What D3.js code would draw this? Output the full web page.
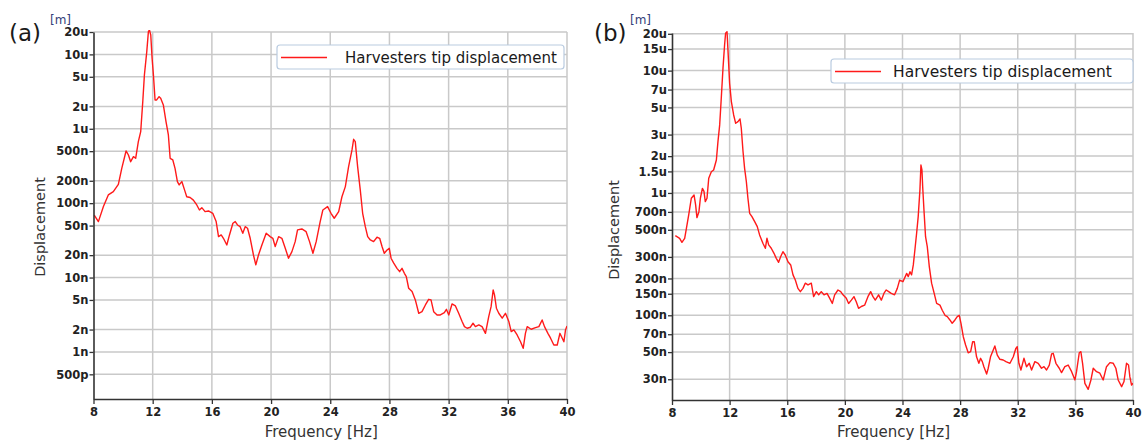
<!DOCTYPE html>
<html>
<head>
<meta charset="utf-8">
<script src="https://cdn.jsdelivr.net/npm/d3@7"></script>
<style>
  body { margin: 0; background: #fff; }
  text { font-family: "DejaVu Sans", Verdana, sans-serif; }
</style>
</head>
<body>
<svg id="chart" width="1142" height="441"></svg>
<script>
// Frequency ticks shared by both panels
const xTicks = [8, 12, 16, 20, 24, 28, 32, 36, 40];

// Displacement ticks, panel (a)
const yTicksA = [2e-5, 1e-5, 5e-6, 2e-6, 1e-6, 5e-7, 2e-7, 1e-7, 5e-8, 2e-8, 1e-8, 5e-9, 2e-9, 1e-9, 5e-10];
const yLabelsA = ["20u", "10u", "5u", "2u", "1u", "500n", "200n", "100n", "50n", "20n", "10n", "5n", "2n", "1n", "500p"];

// Displacement ticks, panel (b)
const yTicksB = [2e-5, 1.5e-5, 1e-5, 7e-6, 5e-6, 3e-6, 2e-6, 1.5e-6, 1e-6, 7e-7, 5e-7, 3e-7, 2e-7, 1.5e-7, 1e-7, 7e-8, 5e-8, 3e-8];
const yLabelsB = ["20u", "15u", "10u", "7u", "5u", "3u", "2u", "1.5u", "1u", "700n", "500n", "300n", "200n", "150n", "100n", "70n", "50n", "30n"];

// [frequency Hz, displacement m]
const seriesA = [
  [8.05, 6.9e-8], [8.33, 5.65e-8], [8.67, 9.0e-8], [9.00, 1.29e-7], [9.34, 1.43e-7], [9.68, 1.79e-7],
  [9.91, 2.94e-7], [10.20, 5.03e-7], [10.36, 4.44e-7], [10.51, 3.61e-7], [10.70, 4.22e-7], [10.85, 4.01e-7],
  [11.03, 6.71e-7], [11.19, 9.14e-7], [11.33, 2.32e-6], [11.44, 5.28e-6], [11.60, 1.09e-5], [11.71, 2.02e-5],
  [11.78, 2.13e-5], [11.87, 1.82e-5], [11.96, 8.86e-6], [12.05, 5.28e-6], [12.16, 2.44e-6], [12.27, 2.44e-6],
  [12.43, 2.70e-6], [12.54, 2.57e-6], [12.72, 2.09e-6], [12.90, 1.25e-6], [13.06, 8.26e-7], [13.18, 4.01e-7],
  [13.36, 3.81e-7], [13.51, 2.94e-7], [13.67, 1.95e-7], [13.79, 1.76e-7], [13.97, 1.95e-7], [14.19, 1.43e-7],
  [14.30, 1.22e-7], [14.53, 1.19e-7], [14.75, 1.10e-7], [14.98, 9.46e-8], [15.16, 8.1e-8], [15.32, 8.7e-8],
  [15.54, 7.69e-8], [15.77, 7.85e-8], [16.06, 7.31e-8], [16.29, 5.65e-8], [16.45, 3.55e-8], [16.63, 3.74e-8],
  [16.78, 3.37e-8], [17.01, 2.74e-8], [17.19, 3.74e-8], [17.42, 5.37e-8], [17.58, 5.65e-8], [17.73, 5.09e-8],
  [17.91, 4.83e-8], [18.09, 3.94e-8], [18.25, 4.83e-8], [18.41, 4.6e-8], [18.59, 3.37e-8], [18.81, 2.01e-8],
  [18.97, 1.48e-8], [19.15, 2.01e-8], [19.38, 2.74e-8], [19.67, 3.94e-8], [19.94, 3.55e-8], [20.12, 3.37e-8],
  [20.28, 2.61e-8], [20.51, 3.55e-8], [20.73, 3.37e-8], [20.96, 2.47e-8], [21.18, 1.82e-8], [21.41, 2.23e-8],
  [21.63, 3.04e-8], [21.79, 4.37e-8], [22.08, 4.5e-8], [22.37, 4.14e-8], [22.60, 3.04e-8], [22.83, 2.12e-8],
  [23.05, 3.04e-8], [23.32, 5.65e-8], [23.50, 8.1e-8], [23.82, 9.0e-8],
  [24.05, 7.31e-8], [24.27, 6.27e-8], [24.57, 7.69e-8], [24.79, 1.22e-7], [25.02, 1.67e-7], [25.24, 3.1e-7],
  [25.47, 5.19e-7], [25.58, 7.22e-7], [25.69, 6.71e-7], [25.85, 3.1e-7], [26.03, 1.5e-7], [26.19, 7.31e-8],
  [26.37, 4.83e-8], [26.53, 3.55e-8], [26.71, 3.2e-8], [26.93, 3.04e-8], [27.16, 3.48e-8], [27.34, 3.37e-8],
  [27.50, 2.61e-8], [27.65, 2.12e-8], [27.84, 2.35e-8], [27.99, 2.47e-8], [28.11, 1.82e-8], [28.29, 1.56e-8],
  [28.51, 1.33e-8], [28.69, 1.2e-8], [28.85, 1.33e-8], [29.01, 1.14e-8], [29.14, 1.03e-8], [29.30, 7.18e-9],
  [29.53, 6.47e-9], [29.75, 5.0e-9], [29.98, 3.31e-9], [30.20, 3.48e-9], [30.43, 4.28e-9], [30.65, 5.1e-9],
  [30.81, 5.0e-9], [30.99, 3.48e-9], [31.22, 3.14e-9], [31.44, 3.14e-9], [31.71, 3.37e-9], [31.85, 3.74e-9],
  [32.01, 3.14e-9], [32.23, 4.42e-9], [32.46, 4.15e-9], [32.68, 3.31e-9], [32.91, 2.56e-9], [33.07, 2.19e-9],
  [33.25, 2.08e-9], [33.47, 2.15e-9], [33.65, 2.43e-9], [33.81, 2.19e-9], [34.04, 2.31e-9], [34.26, 2.19e-9],
  [34.49, 1.78e-9], [34.71, 2.98e-9], [34.87, 4.06e-9], [35.01, 6.81e-9], [35.10, 5.84e-9], [35.23, 3.87e-9],
  [35.39, 3.31e-9], [35.62, 2.84e-9], [35.84, 3.31e-9], [36.07, 2.56e-9], [36.23, 1.88e-9], [36.41, 1.98e-9],
  [36.63, 1.69e-9], [36.86, 1.37e-9], [37.04, 1.12e-9], [37.19, 1.78e-9], [37.31, 2.19e-9], [37.58, 2.02e-9],
  [37.87, 2.12e-9], [38.10, 2.19e-9], [38.32, 2.69e-9], [38.48, 2.19e-9], [38.71, 1.78e-9], [38.89, 1.53e-9],
  [39.11, 1.24e-9], [39.34, 1.24e-9], [39.52, 1.78e-9], [39.68, 1.53e-9], [39.79, 1.37e-9], [39.90, 1.98e-9],
  [40.00, 2.24e-9]
];

// [frequency Hz, displacement m]
const seriesB = [
  [8.23, 4.48e-7], [8.53, 4.26e-7], [8.69, 3.95e-7], [8.88, 4.26e-7], [9.00, 5.14e-7], [9.16, 6.61e-7],
  [9.34, 9.05e-7], [9.53, 9.63e-7], [9.64, 7.98e-7], [9.73, 6.28e-7], [9.87, 7.03e-7], [9.97, 9.05e-7],
  [10.11, 1.09e-6], [10.22, 1.03e-6], [10.31, 8.49e-7], [10.43, 9.05e-7], [10.55, 1.32e-6], [10.73, 1.49e-6],
  [10.89, 1.54e-6], [11.08, 1.86e-6], [11.19, 2.63e-6], [11.31, 3.6e-6], [11.42, 5.95e-6], [11.54, 1.05e-5],
  [11.65, 1.62e-5], [11.72, 2.02e-5], [11.82, 2.08e-5], [11.89, 1.43e-5], [12.00, 7.89e-6], [12.12, 5.58e-6],
  [12.28, 4.34e-6], [12.42, 3.71e-6], [12.58, 3.83e-6], [12.72, 4.03e-6], [12.81, 3.38e-6], [12.93, 2.18e-6],
  [13.04, 1.59e-6], [13.16, 1.24e-6], [13.27, 9.05e-7], [13.39, 6.82e-7], [13.55, 6.4e-7], [13.74, 5.82e-7],
  [13.92, 5.3e-7], [14.08, 4.54e-7], [14.31, 3.88e-7], [14.48, 3.53e-7], [14.59, 4.26e-7], [14.71, 3.76e-7],
  [14.89, 3.53e-7], [15.08, 3.21e-7], [15.24, 2.92e-7], [15.40, 2.71e-7], [15.54, 3.01e-7], [15.70, 3.31e-7],
  [15.86, 3.11e-7], [16.05, 2.74e-7], [16.24, 2.58e-7], [16.40, 2.14e-7], [16.56, 1.94e-7], [16.74, 1.66e-7],
  [16.91, 1.56e-7], [17.09, 1.66e-7], [17.25, 1.83e-7], [17.44, 1.77e-7], [17.67, 1.83e-7], [17.83, 1.42e-7],
  [18.02, 1.56e-7], [18.18, 1.47e-7], [18.36, 1.56e-7], [18.55, 1.47e-7], [18.76, 1.51e-7], [18.94, 1.38e-7],
  [19.13, 1.25e-7], [19.29, 1.47e-7], [19.52, 1.61e-7], [19.71, 1.56e-7], [19.87, 1.47e-7], [20.10, 1.38e-7],
  [20.26, 1.25e-7], [20.45, 1.33e-7], [20.63, 1.42e-7], [20.79, 1.29e-7], [20.95, 1.14e-7], [21.14, 1.18e-7],
  [21.37, 1.21e-7], [21.60, 1.42e-7], [21.79, 1.56e-7], [21.95, 1.42e-7], [22.11, 1.33e-7], [22.34, 1.47e-7],
  [22.53, 1.33e-7], [22.71, 1.51e-7], [22.87, 1.61e-7], [23.04, 1.56e-7], [23.22, 1.51e-7], [23.45, 1.47e-7],
  [23.64, 1.66e-7], [23.80, 1.94e-7], [24.03, 1.88e-7],
  [24.29, 2.2e-7], [24.40, 2.07e-7], [24.52, 2.27e-7], [24.63, 2.14e-7], [24.75, 2.58e-7], [24.86, 3.42e-7],
  [24.98, 4.68e-7], [25.09, 6.4e-7], [25.21, 1.06e-6], [25.28, 1.69e-6], [25.35, 1.54e-6], [25.40, 1.13e-6],
  [25.49, 7.26e-7], [25.60, 4.39e-7], [25.72, 3.64e-7], [25.86, 2.5e-7], [26.02, 1.83e-7], [26.20, 1.51e-7],
  [26.37, 1.25e-7], [26.60, 1.21e-7], [26.76, 1.1e-7], [26.95, 1.0e-7], [27.11, 9.74e-8], [27.29, 9.16e-8],
  [27.45, 8.6e-8], [27.64, 9.16e-8], [27.80, 9.74e-8], [27.94, 1.0e-7], [28.06, 8.6e-8], [28.22, 6.68e-8],
  [28.38, 5.71e-8], [28.56, 4.94e-8], [28.73, 5.04e-8], [28.87, 6.08e-8], [28.98, 6.08e-8], [29.14, 4.58e-8],
  [29.30, 4.05e-8], [29.42, 4.45e-8], [29.54, 4.18e-8], [29.65, 3.8e-8], [29.84, 3.31e-8], [29.95, 3.69e-8],
  [30.11, 4.58e-8], [30.30, 5.2e-8], [30.41, 5.61e-8], [30.58, 4.73e-8], [30.76, 4.37e-8], [30.99, 4.31e-8],
  [31.18, 4.18e-8], [31.46, 4.05e-8], [31.69, 4.58e-8], [31.87, 5.37e-8], [31.96, 5.54e-8], [32.08, 4.05e-8],
  [32.22, 3.57e-8], [32.43, 4.45e-8], [32.61, 3.8e-8], [32.80, 4.05e-8], [32.96, 3.57e-8], [33.19, 4.18e-8],
  [33.42, 4.05e-8], [33.65, 3.69e-8], [33.82, 3.8e-8], [34.00, 3.57e-8], [34.19, 3.92e-8], [34.35, 4.83e-8],
  [34.46, 4.89e-8], [34.65, 4.05e-8], [34.88, 3.69e-8], [35.04, 3.4e-8], [35.27, 3.8e-8], [35.50, 3.92e-8],
  [35.74, 3.46e-8], [35.97, 2.96e-8], [36.08, 3.46e-8], [36.27, 4.94e-8], [36.38, 5.04e-8], [36.50, 4.05e-8],
  [36.66, 2.78e-8], [36.89, 2.48e-8], [37.08, 2.96e-8], [37.24, 3.69e-8], [37.47, 3.46e-8], [37.70, 3.36e-8],
  [37.93, 2.96e-8], [38.16, 3.8e-8], [38.40, 4.1e-8], [38.63, 4.05e-8], [38.81, 3.69e-8], [38.97, 2.96e-8],
  [39.21, 2.61e-8], [39.37, 2.86e-8], [39.55, 4.05e-8], [39.69, 3.92e-8], [39.78, 3.15e-8], [39.90, 2.69e-8],
  [40.00, 2.78e-8]
];

const svg = d3.select("#chart");

function drawPanel(p) {
    const g = svg.append("g");

    const x = d3.scaleLinear().domain([8, 40]).range([p.left, p.right]);
    const y = d3.scaleLog().domain(p.yDomain).range([p.bottom, p.top]);

    // grid
    g.append("g")
        .selectAll("line.hgrid")
        .data(p.yTicks)
        .enter()
        .append("line")
            .attr("x1", p.left).attr("x2", p.right)
            .attr("y1", d => y(d)).attr("y2", d => y(d))
            .attr("stroke", "#c9c9c9").attr("stroke-width", 1.5);
    g.append("g")
        .selectAll("line.vgrid")
        .data(xTicks.slice(1))
        .enter()
        .append("line")
            .attr("x1", d => x(d)).attr("x2", d => x(d))
            .attr("y1", p.top).attr("y2", p.bottom)
            .attr("stroke", "#c9c9c9").attr("stroke-width", 1.5);

    // curve
    const clipId = "clip" + p.name;
    svg.append("clipPath").attr("id", clipId)
        .append("rect")
        .attr("x", p.left).attr("y", p.top - 2)
        .attr("width", p.right - p.left).attr("height", p.bottom - p.top + 2);

    g.append("path")
        .datum(p.series)
        .attr("clip-path", `url(#${clipId})`)
        .attr("fill", "none")
        .attr("stroke", "#ff1a1a")
        .attr("stroke-width", 1.4)
        .attr("stroke-linejoin", "round")
        .attr("d", d3.line().x(d => x(d[0])).y(d => y(d[1])));

    // x axis
    const xa = g.append("g")
        .attr("transform", `translate(0,${p.bottom})`)
        .call(d3.axisBottom(x).tickValues(xTicks).tickFormat(d3.format("d")).tickSize(5).tickSizeOuter(0).tickPadding(4));
    xa.select(".domain").attr("stroke", "#333").attr("stroke-width", 1.6);
    xa.selectAll(".tick line").attr("stroke", "#333").attr("stroke-width", 1.3);
    xa.selectAll("text").attr("font-size", "11.5px").attr("font-weight", "bold").attr("fill", "#222")
        .attr("font-family", "DejaVu Sans, sans-serif");

    // y axis
    const ya = g.append("g")
        .attr("transform", `translate(${p.left},0)`)
        .call(d3.axisLeft(y).tickValues(p.yTicks).tickFormat((d, i) => p.yLabels[i]).tickSize(4).tickSizeOuter(0).tickPadding(1));
    ya.select(".domain").attr("stroke", "#333").attr("stroke-width", 1.6);
    ya.selectAll(".tick line").attr("stroke", "#333").attr("stroke-width", 1.3);
    ya.selectAll("text").attr("font-size", "11.5px").attr("font-weight", "bold").attr("fill", "#222")
        .attr("font-family", "DejaVu Sans, sans-serif");

    // labels
    g.append("text")
        .attr("x", (p.left + p.right) / 2 - 9)
        .attr("y", 437)
        .attr("text-anchor", "middle")
        .attr("font-size", "15px")
        .attr("fill", "#333")
        .text("Frequency [Hz]");

    g.append("text")
        .attr("transform", `translate(${p.yLabelX},${p.yLabelY}) rotate(-90)`)
        .attr("text-anchor", "middle")
        .attr("font-size", "14.5px")
        .attr("fill", "#333")
        .text("Displacement");

    g.append("text")
        .attr("x", p.unitX).attr("y", 24)
        .attr("font-size", "12px")
        .attr("fill", "#33407a")
        .text("[m]");

    g.append("text")
        .attr("x", p.letterX).attr("y", 41)
        .attr("font-size", "23px")
        .attr("fill", "#1a1a1a")
        .text(p.letter);

    // legend
    const lg = g.append("g");
    lg.append("rect")
        .attr("x", p.legend.x).attr("y", p.legend.y)
        .attr("width", p.legend.w).attr("height", 24)
        .attr("rx", 3)
        .attr("fill", "#fff")
        .attr("stroke", "#b9cbe0")
        .attr("stroke-width", 1.2);
    lg.append("line")
        .attr("x1", p.legend.x + 4).attr("x2", p.legend.x + 50)
        .attr("y1", p.legend.y + 12.5).attr("y2", p.legend.y + 12.5)
        .attr("stroke", "#ff1a1a").attr("stroke-width", 1.6);
    lg.append("text")
        .attr("x", p.legend.tx).attr("y", p.legend.y + 17.5)
        .attr("font-size", p.legend.fs)
        .attr("fill", "#1a1a1a")
        .text("Harvesters tip displacement");
}

drawPanel({
    name: "a", series: seriesA, yTicks: yTicksA, yLabels: yLabelsA,
    left: 93.5, right: 567, top: 32, bottom: 399, yDomain: [2.33e-10, 2e-5],
    yLabelX: 45, yLabelY: 227, unitX: 50, letterX: 9, letter: "(a)",
    legend: { x: 277, y: 45, w: 287, tx: 345, fs: "15px" }
});

drawPanel({
    name: "b", series: seriesB, yTicks: yTicksB, yLabels: yLabelsB,
    left: 672, right: 1133, top: 33, bottom: 400, yDomain: [2.03e-8, 2.03e-5],
    yLabelX: 619, yLabelY: 230, unitX: 630, letterX: 594, letter: "(b)",
    legend: { x: 831, y: 59, w: 302, tx: 893, fs: "15.5px" }
});
</script>
</body>
</html>
